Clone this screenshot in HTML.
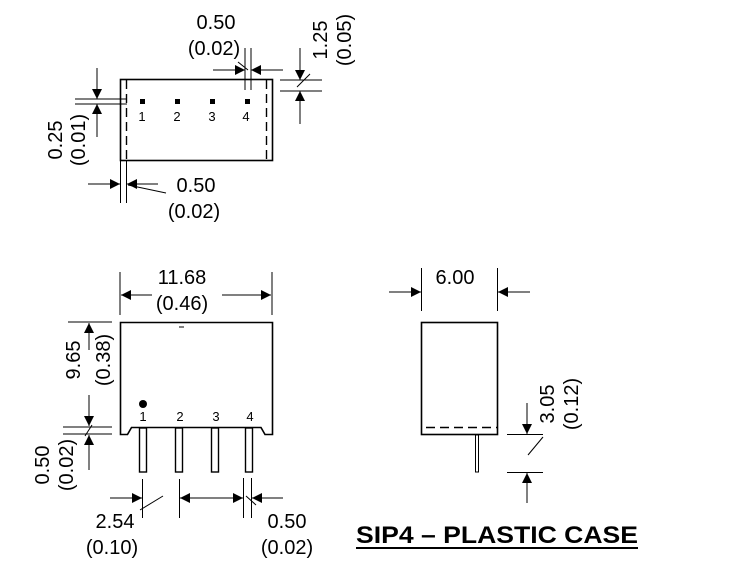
<!DOCTYPE html>
<html><head><meta charset="utf-8"><style>
body{margin:0;background:#fff}
svg{display:block}
</style></head><body>
<svg width="753" height="579" viewBox="0 0 753 579" xmlns="http://www.w3.org/2000/svg" font-family="Liberation Sans, sans-serif">
<defs>
<marker id="a" viewBox="0 0 10 10" refX="10" refY="5" markerWidth="14" markerHeight="10" markerUnits="userSpaceOnUse" orient="auto"><path d="M0,0L10,5L0,10z" fill="#000"/></marker>
</defs>
<g stroke="#000" fill="none" stroke-width="1">
<rect x="120.5" y="79.5" width="152" height="81" stroke-width="1.6"/>
<line x1="126.5" y1="80" x2="126.5" y2="160" stroke-dasharray="9,5" stroke-width="1.4"/>
<line x1="266.5" y1="80" x2="266.5" y2="160" stroke-dasharray="9,5" stroke-width="1.4"/>
<line x1="245" y1="48" x2="245" y2="90"/><line x1="251" y1="48" x2="251" y2="90"/>
<line x1="213" y1="70" x2="245" y2="70" marker-end="url(#a)"/>
<line x1="283" y1="70" x2="251" y2="70" marker-end="url(#a)"/>
<line x1="238" y1="62" x2="248" y2="70"/>
<line x1="280" y1="80" x2="322" y2="80"/><line x1="280" y1="91" x2="322" y2="91"/>
<line x1="300" y1="48" x2="300" y2="80" marker-end="url(#a)"/>
<line x1="300" y1="124" x2="300" y2="91" marker-end="url(#a)"/>
<line x1="297" y1="87" x2="310" y2="74"/>
<line x1="75" y1="99" x2="127" y2="99"/><line x1="75" y1="104" x2="127" y2="104"/>
<line x1="97" y1="68" x2="97" y2="99" marker-end="url(#a)"/>
<line x1="97" y1="137" x2="97" y2="104" marker-end="url(#a)"/>
<line x1="120.5" y1="160" x2="120.5" y2="203"/><line x1="126.5" y1="160" x2="126.5" y2="203"/>
<line x1="88" y1="184" x2="120" y2="184" marker-end="url(#a)"/>
<line x1="158" y1="184" x2="127" y2="184" marker-end="url(#a)"/>
<line x1="128" y1="185" x2="166" y2="193"/>

<path d="M120.5,322.5H272.5V434.5H265L261,427.5H131.5L127.5,434.5H120.5Z" stroke-width="1.6"/>
<rect x="139.5" y="428" width="7" height="44" stroke-width="1.4"/>
<rect x="175.5" y="428" width="7" height="44" stroke-width="1.4"/>
<rect x="211.5" y="428" width="7" height="44" stroke-width="1.4"/>
<rect x="245.5" y="428" width="7" height="44" stroke-width="1.4"/>
<line x1="179" y1="327" x2="184" y2="327"/>
<line x1="120" y1="272" x2="120" y2="315"/><line x1="272" y1="272" x2="272" y2="315"/>
<line x1="152" y1="295" x2="121" y2="295" marker-end="url(#a)"/>
<line x1="222" y1="295" x2="271" y2="295" marker-end="url(#a)"/>
<line x1="68" y1="322" x2="112" y2="322"/><line x1="63" y1="427" x2="112" y2="427"/><line x1="63" y1="434" x2="112" y2="434"/>
<line x1="89" y1="350" x2="89" y2="323" marker-end="url(#a)"/>
<line x1="89" y1="395" x2="89" y2="426" marker-end="url(#a)"/>
<line x1="89" y1="470" x2="89" y2="435" marker-end="url(#a)"/>
<line x1="85" y1="436" x2="92" y2="425"/>
<line x1="142.5" y1="479" x2="142.5" y2="518"/><line x1="179.5" y1="479" x2="179.5" y2="518"/>
<line x1="243.5" y1="478" x2="243.5" y2="518"/><line x1="251.5" y1="478" x2="251.5" y2="518"/>
<line x1="110" y1="498" x2="142" y2="498" marker-end="url(#a)"/>
<line x1="211" y1="498" x2="180" y2="498" marker-end="url(#a)"/>
<line x1="211" y1="498" x2="243" y2="498" marker-end="url(#a)"/>
<line x1="283" y1="498" x2="252" y2="498" marker-end="url(#a)"/>
<line x1="140" y1="510" x2="163" y2="496"/>
<line x1="246" y1="496" x2="256" y2="505"/>

<rect x="421.5" y="322.5" width="76" height="112" stroke-width="1.6"/>
<line x1="426" y1="427.5" x2="497" y2="427.5" stroke-dasharray="9,5" stroke-width="1.4"/>
<rect x="475.5" y="435" width="3" height="37"/>
<line x1="421.5" y1="268" x2="421.5" y2="311"/><line x1="497.5" y1="268" x2="497.5" y2="311"/>
<line x1="389" y1="292" x2="421" y2="292" marker-end="url(#a)"/>
<line x1="530" y1="292" x2="498" y2="292" marker-end="url(#a)"/>
<line x1="507" y1="434.5" x2="543" y2="434.5"/><line x1="507" y1="472.5" x2="543" y2="472.5"/>
<line x1="527" y1="403" x2="527" y2="434" marker-end="url(#a)"/>
<line x1="527" y1="503" x2="527" y2="473" marker-end="url(#a)"/>
<line x1="528" y1="455" x2="543" y2="437"/>
</g>
<circle cx="143" cy="404" r="4" fill="#000"/>
<g fill="#000">
<rect x="140" y="99" width="5" height="5"/><rect x="175" y="99" width="5" height="5"/><rect x="210" y="99" width="5" height="5"/><rect x="245" y="99" width="5" height="5"/>
</g>
<g font-size="13" text-anchor="middle" fill="#000">
<text x="142" y="121">1</text><text x="177" y="121">2</text><text x="212" y="121">3</text><text x="246" y="121">4</text>
<text x="143" y="421">1</text><text x="180" y="421">2</text><text x="216" y="421">3</text><text x="250" y="421">4</text>
</g>
<g font-size="20" text-anchor="middle" fill="#000">
<text x="216" y="29">0.50</text><text x="214" y="55">(0.02)</text>
<text x="196" y="192">0.50</text><text x="194" y="218">(0.02)</text>
<text x="182" y="284">11.68</text><text x="182" y="310">(0.46)</text>
<text x="455" y="284">6.00</text>
<text x="115" y="528">2.54</text><text x="112" y="554">(0.10)</text>
<text x="287" y="528">0.50</text><text x="287" y="554">(0.02)</text>
<text transform="translate(327,40) rotate(-90)">1.25</text>
<text transform="translate(351,40) rotate(-90)">(0.05)</text>
<text transform="translate(62,140) rotate(-90)">0.25</text>
<text transform="translate(85,140) rotate(-90)">(0.01)</text>
<text transform="translate(80,360) rotate(-90)">9.65</text>
<text transform="translate(110,360) rotate(-90)">(0.38)</text>
<text transform="translate(49,465) rotate(-90)">0.50</text>
<text transform="translate(73,465) rotate(-90)">(0.02)</text>
<text transform="translate(554,404) rotate(-90)">3.05</text>
<text transform="translate(578,404) rotate(-90)">(0.12)</text>
</g>
<text x="356" y="543" font-size="24" font-weight="bold" fill="#000" textLength="282" lengthAdjust="spacingAndGlyphs">SIP4 – PLASTIC CASE</text>
<rect x="356" y="547" width="282" height="2" fill="#000"/>
</svg>
</body></html>
